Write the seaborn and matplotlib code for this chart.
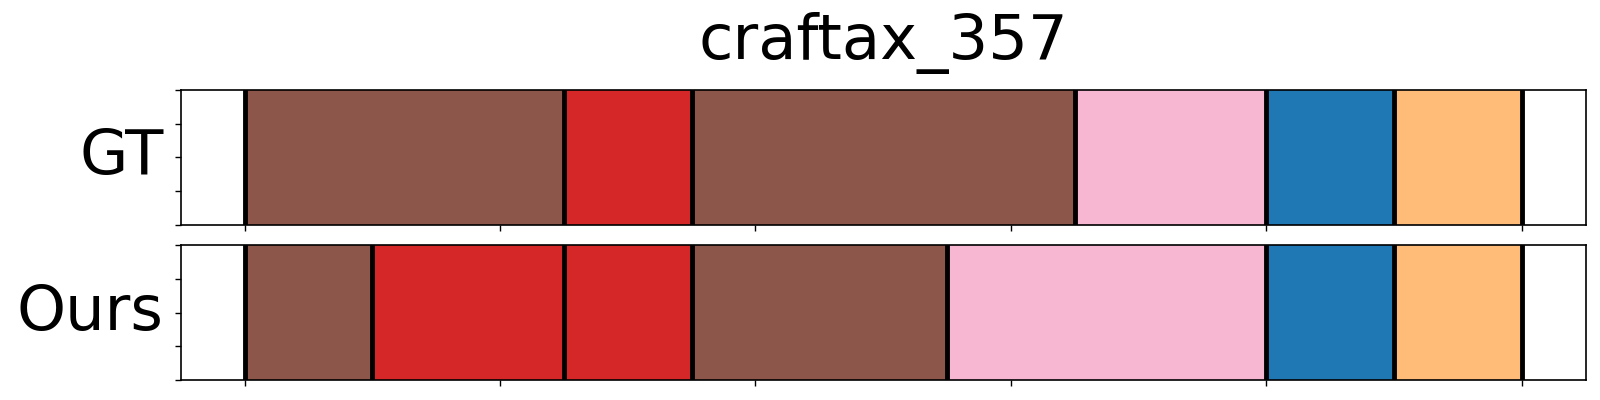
import numpy as np
import matplotlib
matplotlib.use("Agg")
import matplotlib.pyplot as plt
import seaborn as sns

# segment boundaries (timeline units) and labels per row
gt_bounds = [0, 125, 175, 325, 400, 450, 500]
gt_labels = ["brown", "red", "brown", "pink", "blue", "orange"]

ours_bounds = [0, 50, 125, 175, 275, 400, 450, 500]
ours_labels = ["brown", "red", "red", "brown", "pink", "blue", "orange"]

row_names = ["GT", "Ours"]
title = "craftax_357"

sns.set_style("ticks")
plt.rcParams.update({
    "font.family": ["DejaVu Sans"],
    "text.color": "black",
    "axes.labelcolor": "black",
    "xtick.color": "black",
    "ytick.color": "black",
    "axes.edgecolor": "black",
})

tab10 = sns.color_palette("tab10")
tab20 = sns.color_palette("tab20")
palette = {
    "brown": tab10[5],
    "red": tab10[3],
    "pink": tab20[13],
    "blue": tab10[0],
    "orange": tab20[3],
}

fig, axes = plt.subplots(2, 1, figsize=(16, 4), dpi=100, sharex=True)
fig.subplots_adjust(left=0.113, right=0.991, top=0.775, bottom=0.05, hspace=0.15)

rows = [(gt_bounds, gt_labels), (ours_bounds, ours_labels)]
for ax, name, (bounds, labels) in zip(axes, row_names, rows):
    for i, lab in enumerate(labels):
        ax.axvspan(bounds[i], bounds[i + 1], ymin=0, ymax=1,
                   color=palette[lab], lw=0)
    for b in bounds:
        ax.axvline(b, color="black", lw=3.5)
    ax.set_xlim(-25, 525)
    ax.set_ylim(0, 1)
    ax.set_xticks(np.arange(0, 501, 100))
    ax.set_yticks(np.linspace(0, 1, 5))
    ax.set_xticklabels([])
    ax.set_yticklabels([])
    ax.set_ylabel(name, fontsize=45, rotation=0, ha="right", va="center", labelpad=5)
    for sp in ax.spines.values():
        sp.set_visible(True)
        sp.set_linewidth(1.2)
    ax.tick_params(length=4, width=1)

axes[0].set_title(title, fontsize=45, pad=22)

plt.savefig("out.png", dpi=100)
